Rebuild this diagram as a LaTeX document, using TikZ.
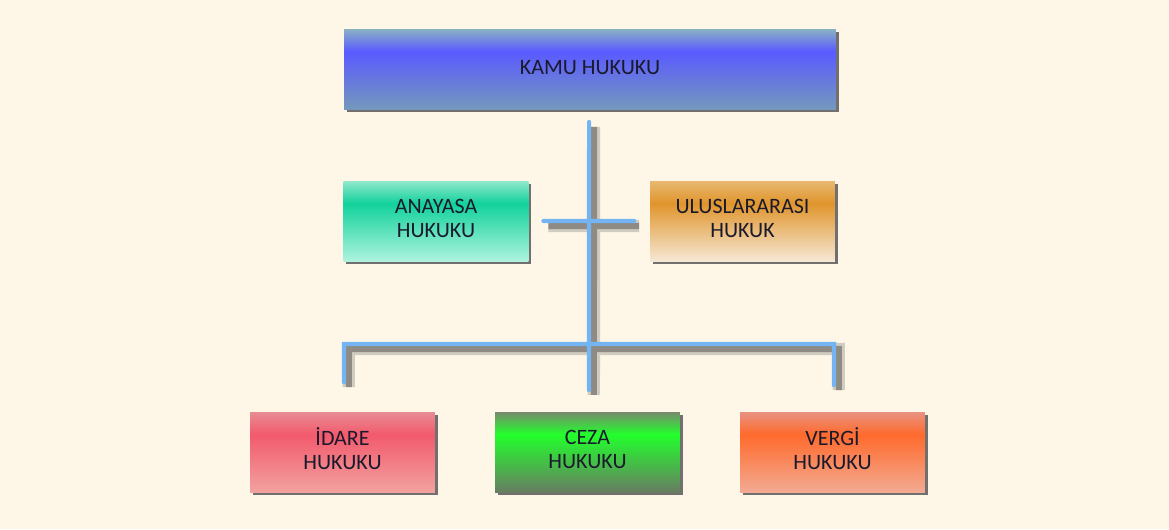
\documentclass[tikz,border=0pt]{standalone}
\usepackage{fontspec}
\setmainfont{Carlito}
\usetikzlibrary{shadows}

\definecolor{bgcream}{HTML}{FEF7E7}
\definecolor{linkblue}{HTML}{74B4F2}
\definecolor{txtdark}{HTML}{1A1A2C}

\definecolor{kamuT}{HTML}{8AB2C2}\definecolor{kamuM}{HTML}{5A5AFF}\definecolor{kamuB}{HTML}{7498BC}
\definecolor{anaT}{HTML}{90E8CC}\definecolor{anaM}{HTML}{12D29C}\definecolor{anaB}{HTML}{AEF3DE}
\definecolor{ulusT}{HTML}{E8B872}\definecolor{ulusM}{HTML}{E0952C}\definecolor{ulusB}{HTML}{F6E8D4}
\definecolor{idareT}{HTML}{E88C94}\definecolor{idareM}{HTML}{F25A6C}\definecolor{idareB}{HTML}{F2A2A0}
\definecolor{cezaT}{HTML}{778A6C}\definecolor{cezaM}{HTML}{22FF2C}\definecolor{cezaB}{HTML}{687C62}
\definecolor{vergiT}{HTML}{E89282}\definecolor{vergiM}{HTML}{FF6A2C}\definecolor{vergiB}{HTML}{F2AA92}

\newcommand{\boxshade}[4]{%
  \pgfdeclareverticalshading{#1}{100bp}{color(0bp)=(#4); color(25bp)=(#4);
    color(61bp)=(#3); color(75bp)=(#2); color(100bp)=(#2)}}
\boxshade{kamushade}{kamuT}{kamuM}{kamuB}
\boxshade{anashade}{anaT}{anaM}{anaB}
\boxshade{ulusshade}{ulusT}{ulusM}{ulusB}
\boxshade{idareshade}{idareT}{idareM}{idareB}
\boxshade{cezashade}{cezaT}{cezaM}{cezaB}
\boxshade{vergishade}{vergiT}{vergiM}{vergiB}

\begin{document}
\begin{tikzpicture}[x=0.02cm,y=-0.02cm,
    lawbox/.style={minimum width=3.7cm,minimum height=1.6cm,inner sep=0pt,outer sep=0pt,
      align=center,text=txtdark,font=\fontsize{12.5}{13.6}\selectfont,
      execute at begin node=\vphantom{İ},
      execute at end node=\rule[-3.5pt]{0pt}{1pt},
      drop shadow={shadow xshift=1.5pt,shadow yshift=-1.5pt,fill=black!65,opacity=.85}},
    link/.style={draw=linkblue,line width=2.4pt,line cap=round,
      preaction={draw=black!70,draw opacity=.25,line width=7pt,
        transform canvas={shift={(2.8pt,-2.8pt)}}},
      preaction={draw=black!70,draw opacity=.5,line width=3.5pt,
        transform canvas={shift={(2.8pt,-2.8pt)}}}}]
  \fill[bgcream] (0,0) rectangle (1169,529);

  \node[lawbox,minimum width=9.84cm,shading=kamushade] (kamu) at (590,69) {KAMU HUKUKU};
  \node[lawbox,shading=anashade] (anayasa) at (436,221) {ANAYASA\\HUKUKU};
  \node[lawbox,shading=ulusshade] (ulus) at (742.5,221) {ULUSLARARASI\\HUKUK};
  \node[lawbox,shading=idareshade] (idare) at (342.5,452) {İDARE\\HUKUKU};
  \node[lawbox,shading=cezashade] (ceza) at (587.5,452) {CEZA\\HUKUKU};
  \node[lawbox,shading=vergishade] (vergi) at (832.5,452) {VERGİ\\HUKUKU};

  \coordinate (bar) at (589,344);
  % trunk, cross and the bar to the lower row
  \draw[link] ([xshift=-0.5pt,yshift=-7.4pt]kamu.south) -- ([xshift=0.8pt,yshift=12.5pt]ceza.north)
    ([xshift=8.5pt]anayasa.east) -- ([xshift=-9pt]ulus.west)
    ([xshift=0.8pt,yshift=17pt]idare.north) -- ([xshift=0.8pt]idare.north |- bar)
    -- ([xshift=0.8pt]vergi.north |- bar) -- ([xshift=0.8pt,yshift=15.3pt]vergi.north);
\end{tikzpicture}
\end{document}
